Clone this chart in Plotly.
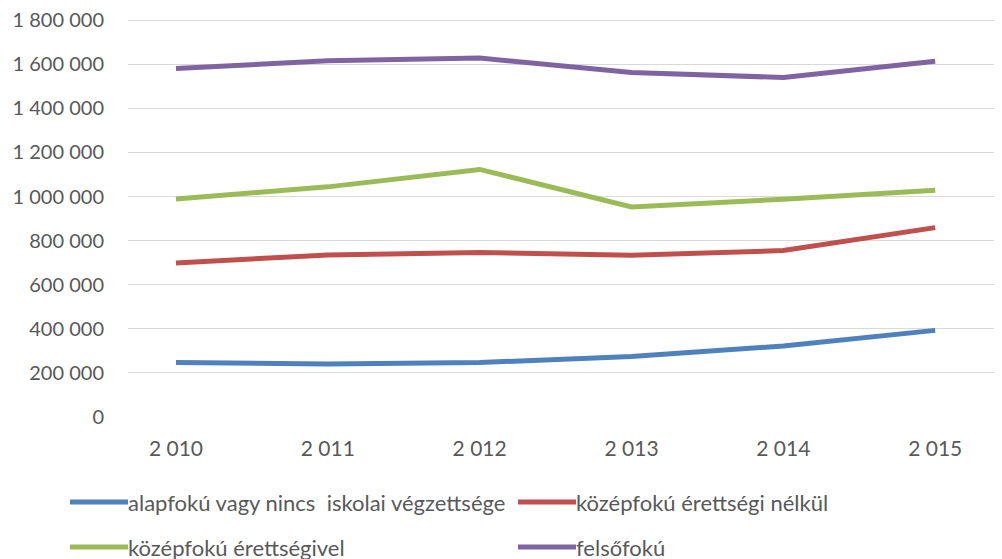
import plotly.graph_objects as go

years = ["2 010", "2 011", "2 012", "2 013", "2 014", "2 015"]
names = [
    "alapfokú vagy nincs\u00a0 iskolai végzettsége",
    "középfokú érettségi nélkül",
    "középfokú érettségivel",
    "felsőfokú",
]
alapfoku = [247000, 240000, 247000, 275000, 322000, 393000]
kozep_nelkul = [699000, 735000, 746000, 734000, 755000, 859000]
kozep_vel = [989000, 1044000, 1123000, 953000, 988000, 1029000]
felsofoku = [1581000, 1616000, 1628000, 1563000, 1540000, 1614000]
series = [alapfoku, kozep_nelkul, kozep_vel, felsofoku]
colors = ["#4f81bd", "#c0504d", "#9bbb59", "#8064a2"]
y_ticks = list(range(0, 1800001, 200000))

FONT = "Lato"
TXT = "#595959"
OFF = 8  # page body margin

L, T, B = 128 - OFF, 10, 559 - (417 - OFF)
PW = 1002 - L - OFF
PH = (417 - OFF) - T

fig = go.Figure()
for name, vals, col in zip(names, series, colors):
    fig.add_trace(go.Scatter(
        x=list(range(len(years))), y=vals, name=name, mode="lines",
        line=dict(color=col, width=5), showlegend=False,
    ))

fig.update_layout(
    width=1002, height=559,
    margin=dict(l=L, r=OFF, t=T, b=B, autoexpand=False),
    paper_bgcolor="white", plot_bgcolor="white",
    separators=", ",
    font=dict(family=FONT, size=21, color=TXT),
    xaxis=dict(
        range=[-0.316, 5.44], tickvals=list(range(len(years))), ticktext=years,
        showgrid=False, zeroline=False, showline=False, ticks="",
        ticklabelstandoff=17, automargin=False,
    ),
    yaxis=dict(
        range=[0, 1810000], tickvals=y_ticks, tickformat=",d",
        tickfont=dict(size=20),
        showgrid=True, gridcolor="#d9d9d9", gridwidth=1.3, zeroline=False,
        showline=False, ticks="", ticklabelstandoff=23,
        ticklabeloverflow="allow", automargin=False,
    ),
)

# manual legend (two columns, two rows), positions in page pixels
leg_x = [70, 518, 70, 518]
leg_y = [502, 502, 547, 547]
for name, col, lx, ly in zip(names, colors, leg_x, leg_y):
    fx, fy = lx - OFF, ly - OFF
    py = (559 - B - fy) / PH
    fig.add_shape(type="line", xref="paper", yref="paper",
                  x0=(fx - L) / PW, x1=(fx + 58 - L) / PW, y0=py, y1=py,
                  line=dict(color=col, width=5))
    fig.add_annotation(xref="paper", yref="paper",
                       x=(fx + 58 - L) / PW, y=py, xshift=-2,
                       text=name, showarrow=False, xanchor="left", yanchor="middle",
                       font=dict(family=FONT, size=22, color=TXT))

fig.write_html("out.html")
